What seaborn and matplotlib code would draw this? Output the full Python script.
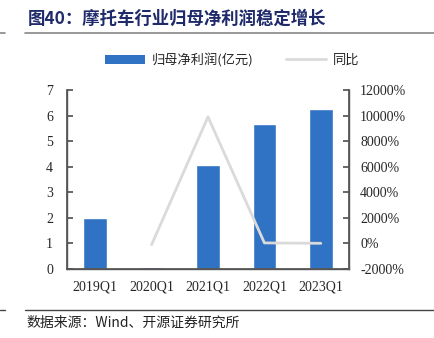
import matplotlib
matplotlib.use("Agg")
import matplotlib.pyplot as plt
import seaborn as sns
import pandas as pd
from matplotlib.lines import Line2D
from matplotlib.patches import Patch

categories = ["2019Q1", "2020Q1", "2021Q1", "2022Q1", "2023Q1"]
profit = [2.0, 0.06, 4.06, 5.68, 6.24]
yoy = [None, -97, 9900, 40, 10]
left_ticks = [0, 1, 2, 3, 4, 5, 6, 7]
right_ticks = [-2000, 0, 2000, 4000, 6000, 8000, 10000, 12000]

sns.set_theme(style="white")
plt.rcParams['font.family'] = ['Noto Sans CJK SC', 'DejaVu Sans']

df = pd.DataFrame({"cat": categories, "profit": profit, "yoy": yoy})

fig = plt.figure(figsize=(4.34, 3.38), dpi=100)
ax = fig.add_axes([67/434, 1 - 269/338, (349-67)/434, (269-90)/338])
sns.barplot(data=df, x="cat", y="profit", color="#3072C4", width=0.42,
            saturation=1, ax=ax)
ax.set_ylim(0, 7)
ax.set_yticks(left_ticks)
ax.set_xlim(-0.5, 4.5)
ax.set_xlabel("")
ax.set_ylabel("")
serif = ['Times New Roman', 'Liberation Serif', 'DejaVu Serif']
ax.set_yticklabels([str(t) for t in left_ticks], family=serif, fontsize=10)
ax.set_xticks(range(5))
ax.set_xticklabels(categories, family=serif, fontsize=10)
ax.tick_params(axis='x', length=0, pad=8)
ax.set_xticks([0.5, 1.5, 2.5, 3.5], minor=True)
ax.tick_params(axis='x', which='minor', direction='in', length=4, color='#555555')
ax.tick_params(axis='y', direction='in', length=4, color='#555555', pad=10)
for s in ['left', 'bottom', 'right']:
    ax.spines[s].set_color('#555555')
    ax.spines[s].set_linewidth(1)
ax.spines['top'].set_visible(False)

ax2 = ax.twinx()
sub = df.dropna()
sns.lineplot(x=[categories.index(c) for c in sub["cat"]], y=sub["yoy"].astype(float),
             color="#DADADA", linewidth=2, ax=ax2)
ax2.set_ylim(-2000, 12000)
ax2.set_yticks(right_ticks)
ax2.set_yticklabels([f"{t}%" for t in right_ticks], family=serif, fontsize=10)
ax2.tick_params(axis='y', direction='in', length=4, color='#555555', pad=8)
ax2.set_ylabel("")
for s in ['left', 'bottom', 'right']:
    ax2.spines[s].set_color('#555555')
ax2.spines['top'].set_visible(False)

handles = [Patch(facecolor="#3072C4", edgecolor='none'),
           Line2D([0], [0], color="#DADADA", linewidth=2)]
fig.legend(handles, ["归母净利润(亿元)", "同比"], loc='center',
           bbox_to_anchor=(0.535, 1 - 60/338), ncol=2, frameon=False,
           fontsize=9.5, handlelength=3.0, columnspacing=2.5, handletextpad=0.5)

fig.text(28/434, 1 - 19/338, "图40：摩托车行业归母净利润稳定增长", fontsize=12.5,
         fontweight='bold', color='#1F2A6B', va='center', ha='left')
fig.add_artist(Line2D([25/434, 1], [1 - 33/338, 1 - 33/338], color='#888888', linewidth=1.2))
fig.add_artist(Line2D([0, 5/434], [1 - 33/338, 1 - 33/338], color='#888888', linewidth=1.2))
fig.add_artist(Line2D([25/434, 1], [1 - 310/338, 1 - 310/338], color='#444444', linewidth=1))
fig.add_artist(Line2D([0, 5/434], [1 - 310/338, 1 - 310/338], color='#444444', linewidth=1))
fig.text(26/434, 1 - 323/338, "数据来源：Wind、开源证券研究所", fontsize=10,
         color='#222222', va='center', ha='left')

fig.savefig("out.png", dpi=100)
